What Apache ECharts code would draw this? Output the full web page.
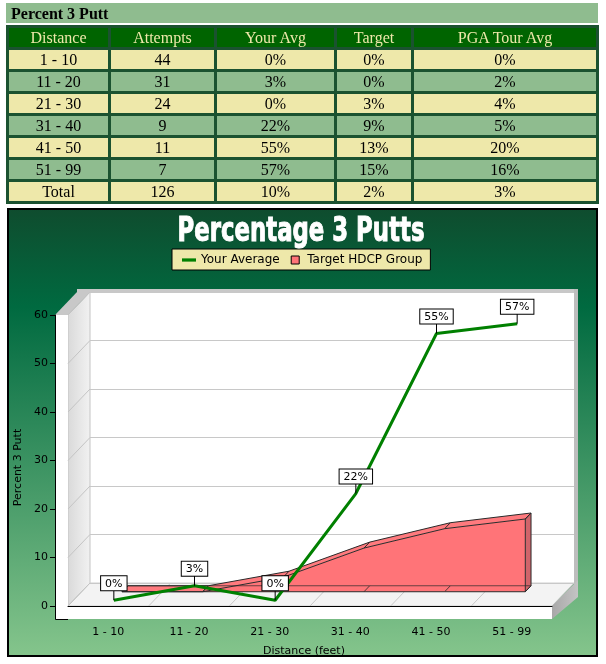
<!DOCTYPE html>
<html>
<head>
<meta charset="utf-8">
<script src="https://cdn.jsdelivr.net/npm/echarts@6/dist/echarts.min.js"></script>
<style>
html, body { margin: 0; padding: 0; background: #fff; }
#chart { position: absolute; left: 0; top: 0; width: 606px; height: 664px; }
#putt-box { position: absolute; left: 6px; top: 3px; width: 593px; z-index: 2; font-family: "Liberation Serif", "Times New Roman", serif; }
#putt-title { height: 20px; width: 587px; background: #8fbc8f; font-weight: bold; font-size: 16px; line-height: 21px; padding-left: 5px; }
#putt-table { margin-top: 2px; width: 593px; border-collapse: separate; border-spacing: 3px; background: #1b5230; table-layout: fixed; font-size: 16px; }
#putt-table th, #putt-table td { height: 19px; padding: 0; text-align: center; line-height: 19px; }
#putt-table th { background: #006400; color: #eee8aa; font-weight: normal; }
#putt-table tr.light td { background: #eee8aa; }
#putt-table tr.dark td { background: #8fbc8f; }
</style>
</head>
<body>
<div id="chart"></div>
<div id="putt-box">
  <div id="putt-title">Percent 3 Putt</div>
  <table id="putt-table">
    <colgroup><col style="width:99px"><col style="width:103px"><col style="width:117px"><col style="width:74px"><col style="width:182px"></colgroup>
    <thead><tr id="putt-head"></tr></thead>
    <tbody id="putt-body"></tbody>
  </table>
</div>
<script>
// data
const columns = ['Distance', 'Attempts', 'Your Avg', 'Target', 'PGA Tour Avg'];
const categories = ['1 - 10', '11 - 20', '21 - 30', '31 - 40', '41 - 50', '51 - 99'];
const attempts = [44, 31, 24, 9, 11, 7];
const yourAvg = [0, 3, 0, 22, 55, 57];
const targetHdcp = [0, 0, 3, 9, 13, 15];
const pgaTourAvg = [0, 2, 4, 5, 20, 16];
const totalRow = ['Total', 126, 10, 2, 3];
const yTicks = [0, 10, 20, 30, 40, 50, 60];

// table
document.getElementById('putt-head').innerHTML = columns.map(c => '<th>' + c + '</th>').join('');
let rows = categories.map((c, i) => [c, attempts[i], yourAvg[i] + '%', targetHdcp[i] + '%', pgaTourAvg[i] + '%']);
rows.push([totalRow[0], totalRow[1], totalRow[2] + '%', totalRow[3] + '%', totalRow[4] + '%']);
document.getElementById('putt-body').innerHTML = rows.map((r, i) =>
  '<tr class="' + (i % 2 ? 'dark' : 'light') + '">' + r.map(v => '<td>' + v + '</td>').join('') + '</tr>'
).join('');

// layout of the pseudo 3d box
const FONT = 'DejaVu Sans';
const FRONT = { left: 68, top: 315, width: 484, height: 291 };
const DEPTH = [22, -23];
const WALL = 13; // thickness of the left wall / floor slab
const LINE_F = 0.25, AREA_F0 = 0.62, AREA_F1 = 0.88;
const PINK = '#ff7478', PINK_TOP = '#ff7a7e', PINK_SIDE = '#d0646a', EDGE = '#2a2a2a';

function plane(f) {
  return {
    left: FRONT.left + DEPTH[0] * f, top: FRONT.top + DEPTH[1] * f,
    width: FRONT.width, height: FRONT.height, outerBoundsMode: 'none'
  };
}

const yBase = { type: 'value', min: yTicks[0], max: yTicks[yTicks.length - 1], interval: 10 };

// whole 3d ribbon is drawn once, from every point of the series
function renderTarget(params, api) {
  if (params.dataIndex !== 0) return { type: 'group', children: [] };
  const n = targetHdcp.length;
  const at = (idx, v, f) => {
    const p = api.coord([idx, v]);
    return [p[0] + DEPTH[0] * f, p[1] + DEPTH[1] * f];
  };
  const ids = targetHdcp.map((v, i) => i);
  const front = ids.map(i => at(i, targetHdcp[i], AREA_F0));
  const back = ids.map(i => at(i, targetHdcp[i], AREA_F1));
  const frontBase = ids.map(i => at(i, 0, AREA_F0));
  const backBase = ids.map(i => at(i, 0, AREA_F1));
  const kids = [];
  const poly = (pts, fill, z2) => kids.push({ type: 'polygon', z2: z2, shape: { points: pts }, style: { fill: fill } });
  const edge = (pts, op) => kids.push({ type: 'polyline', z2: 10, shape: { points: pts }, style: { fill: null, stroke: EDGE, lineWidth: 1, opacity: op || 1 } });
  poly(front.concat(back.slice().reverse()), PINK_TOP, 1);
  poly(front.concat(frontBase.slice().reverse()), PINK, 2);
  poly([front[n - 1], back[n - 1], backBase[n - 1], frontBase[n - 1]], PINK_SIDE, 3);
  edge(back); edge(front); edge(frontBase); edge(backBase, 0.7);
  ids.forEach(i => { edge([front[i], back[i]]); edge([frontBase[i], backBase[i]], 0.8); });
  edge([front[n - 1], back[n - 1], backBase[n - 1], frontBase[n - 1], front[n - 1]]);
  return { type: 'group', children: kids };
}

const chart = echarts.init(document.getElementById('chart'), null, { renderer: 'canvas' });

chart.setOption({
  animation: false,
  grid: [plane(0), plane(LINE_F), plane(1)],
  xAxis: [
    {
      gridIndex: 0, type: 'category', data: categories, offset: WALL,
      axisLine: { lineStyle: { color: '#000', width: 1 } },
      axisTick: { length: 4, lineStyle: { color: '#000' } },
      axisLabel: { color: '#000', fontFamily: FONT, fontSize: 11, margin: 8 },
      splitLine: { show: false },
      name: 'Distance (feet)', nameLocation: 'middle', nameGap: 27, nameMoveOverlap: false,
      nameTextStyle: { color: '#000', fontFamily: FONT, fontSize: 11, padding: [0, 12, 0, 0] }
    },
    { gridIndex: 1, type: 'category', data: categories, show: false },
    { gridIndex: 2, type: 'category', data: categories, show: false }
  ],
  yAxis: [
    Object.assign({}, yBase, {
      gridIndex: 0, offset: WALL,
      axisLine: { show: true, lineStyle: { color: '#000', width: 1 } },
      axisTick: { show: true, length: 5, lineStyle: { color: '#000' } },
      axisLabel: { color: '#000', fontFamily: FONT, fontSize: 11, margin: 7 },
      splitLine: { show: false },
      name: 'Percent 3 Putt', nameLocation: 'middle', nameGap: 31, nameMoveOverlap: false,
      nameTextStyle: { color: '#000', fontFamily: FONT, fontSize: 11, padding: [0, 14, 0, 0] }
    }),
    Object.assign({}, yBase, { gridIndex: 1, show: false }),
    Object.assign({}, yBase, {
      gridIndex: 2,
      axisLine: { show: false }, axisTick: { show: false }, axisLabel: { show: false },
      splitLine: { show: true, lineStyle: { color: '#c8c8c8', width: 1 } }
    })
  ],
  legend: {
    left: 172, top: 249, padding: [5, 8, 4, 10], itemGap: 11,
    backgroundColor: '#eee8aa', borderColor: '#000', borderWidth: 1, borderRadius: 0,
    itemWidth: 14, itemHeight: 8,
    textStyle: { color: '#000', fontFamily: FONT, fontSize: 12 },
    data: [
      { name: 'Your Average', icon: 'path://M0,0H13V3H0Z', itemStyle: { color: '#008000', borderWidth: 0 } },
      { name: 'Target HDCP Group', icon: 'path://M0,0H7V7H0Z', itemStyle: { color: PINK, borderColor: '#000', borderWidth: 1 } }
    ]
  },
  series: [
    {
      name: 'Target HDCP Group', type: 'custom', xAxisIndex: 0, yAxisIndex: 0, z: 2, clip: false,
      itemStyle: { color: PINK },
      data: targetHdcp.map((v, i) => [i, v]),
      encode: { x: 0, y: 1 },
      renderItem: renderTarget
    },
    {
      name: 'Your Average', type: 'line', xAxisIndex: 1, yAxisIndex: 1, z: 3, clip: false,
      data: yourAvg,
      symbol: 'rect', symbolSize: [1, 10], symbolOffset: [0, '-50%'], showSymbol: true, showAllSymbol: true,
      itemStyle: { color: '#000' },
      lineStyle: { color: '#008000', width: 3 },
      label: {
        show: true, position: 'top', distance: 0, formatter: '{c}%',
        color: '#000', fontFamily: FONT, fontSize: 11, lineHeight: 13,
        backgroundColor: '#fff', borderColor: '#000', borderWidth: 1, padding: [1, 4, 0, 4]
      },
      emphasis: { disabled: true }
    }
  ]
});

// decorations of the box, placed through the axes
const fx = (i) => chart.convertToPixel({ xAxisIndex: 0 }, i);
const fy = (v) => chart.convertToPixel({ yAxisIndex: 0 }, v);
const by = (v) => chart.convertToPixel({ yAxisIndex: 2 }, v);
const band = FRONT.width / categories.length;
const x0 = fx(0) - band / 2, x1 = fx(categories.length - 1) + band / 2;
const yTop = fy(yTicks[yTicks.length - 1]), yBot = fy(0);
const bx0 = x0 + DEPTH[0], bx1 = x1 + DEPTH[0];
const byTop = by(yTicks[yTicks.length - 1]), byBot = by(0);

const deco = [];
deco.push({
  type: 'rect', z: -20, shape: { x: 8, y: 209, width: 589, height: 447 },
  style: {
    stroke: '#000', lineWidth: 2,
    fill: new echarts.graphic.LinearGradient(0, 0, 0, 1, [
      { offset: 0, color: '#0f4c2e' }, { offset: 0.22, color: '#006a40' }, { offset: 1, color: '#85c58c' }
    ])
  }
});
// back wall
deco.push({ type: 'rect', z: -15, shape: { x: bx0, y: byTop, width: bx1 - bx0, height: byBot - byTop }, style: { fill: '#fff' } });
deco.push({ type: 'rect', z: -15, shape: { x: bx0 - WALL, y: byTop - 3, width: bx1 - bx0 + WALL + 4, height: 3 }, style: { fill: '#c8c8c8' } });
deco.push({ type: 'rect', z: -15, shape: { x: bx1, y: byTop - 3, width: 4, height: byBot - byTop + 17 }, style: { fill: '#bdbdbd' } });
// left wall
deco.push({
  type: 'polygon', z: -15, shape: { points: [[x0, yTop], [bx0, byTop], [bx0, byBot], [x0, yBot]] },
  style: {
    stroke: '#c4c4c4', lineWidth: 1,
    fill: new echarts.graphic.LinearGradient(0, 0, 1, 0, [{ offset: 0, color: '#d9d9d9' }, { offset: 1, color: '#f2f2f2' }])
  }
});
deco.push({ type: 'polygon', z: -15, shape: { points: [[x0 - WALL, yTop], [x0, yTop], [bx0, byTop], [bx0 - WALL, byTop]] }, style: { fill: '#c8c8c8' } });
deco.push({ type: 'rect', z: -15, shape: { x: x0 - WALL, y: yTop, width: WALL, height: yBot - yTop + WALL }, style: { fill: '#fff' } });
// floor
deco.push({ type: 'polygon', z: -15, shape: { points: [[x0, yBot], [bx0, byBot], [bx1, byBot], [x1, yBot]] }, style: { fill: '#f3f3f3', stroke: '#cfcfcf', lineWidth: 1 } });
deco.push({ type: 'rect', z: -15, shape: { x: x0 - WALL, y: yBot, width: x1 - x0 + WALL, height: WALL }, style: { fill: '#fff' } });
deco.push({
  type: 'polygon', z: -15, shape: { points: [[x1, yBot], [bx1 + 4, byBot - 3], [bx1 + 4, byBot + 14], [x1, yBot + WALL]] },
  style: { fill: new echarts.graphic.LinearGradient(0, 0, 1, 0, [{ offset: 0, color: '#a8a8a8' }, { offset: 1, color: '#c4c4c4' }]) }
});
// guide lines on the left wall and the floor
yTicks.forEach(v => {
  deco.push({ type: 'line', z: -14, shape: { x1: x0, y1: fy(v), x2: bx0, y2: by(v) }, style: { stroke: '#c4c4c4', lineWidth: 1 } });
});
for (let k = 1; k < categories.length; k++) {
  const xf = x0 + band * k;
  deco.push({ type: 'line', z: -14, shape: { x1: xf, y1: yBot, x2: xf + DEPTH[0], y2: byBot }, style: { stroke: '#c8c8c8', lineWidth: 1 } });
}
// axis corner
deco.push({ type: 'polyline', z: 1, shape: { points: [[x0 - WALL + 0.5, yBot], [x0 - WALL + 0.5, yBot + WALL + 0.5], [x0, yBot + WALL + 0.5]] }, style: { stroke: '#000', lineWidth: 1, fill: null } });

// title
const TITLE = 'Percentage 3 Putts';
const TITLE_FONT = 'bold 34px "DejaVu Sans Condensed", "DejaVu Sans", sans-serif';
const ctx = document.createElement('canvas').getContext('2d');
ctx.font = TITLE_FONT;
const titleScale = 247 / ctx.measureText(TITLE).width;
deco.push({
  type: 'text', z: 10, x: 301, y: 232, scaleX: titleScale, scaleY: 1,
  style: {
    text: TITLE, font: TITLE_FONT, fill: '#fff', stroke: '#fff', lineWidth: 1, align: 'center', verticalAlign: 'middle',
    textShadowColor: 'rgba(0,20,60,0.9)', textShadowOffsetX: 1.5, textShadowOffsetY: 1.5, textShadowBlur: 0
  }
});

chart.setOption({ graphic: deco });
</script>
</body>
</html>
